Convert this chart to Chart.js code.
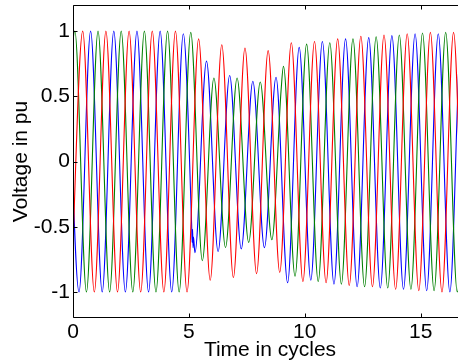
<!doctype html>
<html>
<head>
	<meta charset="utf-8">
	<title>Voltage in pu</title>
	<style>
		html, body { margin: 0; padding: 0; overflow: hidden; background: #fff; }
		#canvas-holder { width: 480px; height: 361px; }
	</style>
</head>
<body>
	<div id="canvas-holder">
		<canvas id="chart-area"></canvas>
	</div>
	<script src="https://cdn.jsdelivr.net/npm/chart.js@4.4.1/dist/chart.umd.min.js"></script>
	<script>
	// peaks / troughs of each phase, one value per cycle
	// red: peaks at n+0.42, troughs at n-0.08
	var redPeakStart = 0.42, redTroughStart = -0.08;
	var redPeaks   = [1, 1, 1, 1, 1, 0.94, 0.895, 0.87, 0.85, 0.91, 0.92, 0.94, 0.96, 0.97, 0.98, 0.99, 0.99, 1];
	var redTroughs = [-1, -1, -1, -1, -1, -1, -0.91, -0.89, -0.86, -0.85, -0.92, -0.93, -0.95, -0.96, -0.98, -0.99, -1, -1];
	// green: peaks at n+0.08, troughs at n-0.42
	var greenPeakStart = 0.08, greenTroughStart = -0.42;
	var greenPeaks   = [1, 1, 1, 1, 1, 0.99, 0.64, 0.64, 0.61, 0.73, 0.9, 0.91, 0.94, 0.957, 0.97, 0.985, 0.99, 1];
	var greenTroughs = [-1, -1, -1, -1, -1, -1, -0.76, -0.66, -0.62, -0.6, -0.88, -0.92, -0.94, -0.96, -0.97, -0.98, -0.99, -1];
	var greenExtra = [[8.98, 0.55]];
	// blue: peaks at n-0.24, troughs at n+0.26
	var bluePeakStart = -0.24, blueTroughStart = 0.26;
	var bluePeaks   = [1, 1, 1, 1, 1, 0.98, 0.77, 0.66, 0.615, 0.646, 0.875, 0.92, 0.94, 0.95, 0.965, 0.98, 0.98, 0.99];
	var blueTroughs = [-1, -1, -1, -1, -1, -0.7, -0.69, -0.67, -0.66, -0.93, -0.91, -0.94, -0.96, -0.97, -0.98, -0.99, -1, -1];
	var blueExtra = [[5.12, -0.49], [5.14, -0.62], [5.16, -0.52], [5.18, -0.66], [5.2, -0.58]];

	var xTicks = [0, 5, 10, 15];
	var yTicks = [-1, -0.5, 0, 0.5, 1];

	function buildPoints(peakStart, peaks, troughStart, troughs, extra) {
		var pts = [];
		peaks.forEach(function(v, n) { pts.push({x: peakStart + n, y: v}); });
		troughs.forEach(function(v, n) { pts.push({x: troughStart + n, y: v}); });
		(extra || []).forEach(function(p) { pts.push({x: p[0], y: p[1]}); });
		pts.sort(function(a, b) { return a.x - b.x; });
		return pts;
	}

	var boxPlugin = {
		id: 'box',
		afterDraw: function(chart) {
			var ctx = chart.ctx, a = chart.chartArea;
			var x = chart.scales.x, y = chart.scales.y;
			var L = Math.round(a.left) + 0.5, R = Math.round(a.right) - 0.5;
			var T = Math.round(a.top) + 0.5, B = Math.round(a.bottom) - 0.5;
			ctx.save();
			ctx.strokeStyle = '#000';
			ctx.lineWidth = 1;
			ctx.beginPath();
			ctx.moveTo(L, T); ctx.lineTo(R, T); ctx.lineTo(R, B); ctx.lineTo(L, B); ctx.closePath();
			xTicks.forEach(function(v) {
				var px = Math.round(x.getPixelForValue(v)) + 0.5;
				ctx.moveTo(px, B); ctx.lineTo(px, B - 4);
				ctx.moveTo(px, T); ctx.lineTo(px, T + 4);
			});
			yTicks.forEach(function(v) {
				var py = Math.round(y.getPixelForValue(v)) + 0.5;
				ctx.moveTo(L, py); ctx.lineTo(L + 4, py);
				ctx.moveTo(R, py); ctx.lineTo(R - 4, py);
			});
			ctx.stroke();
			ctx.restore();
		}
	};

	var font = 'Liberation Sans, Arial, Helvetica, sans-serif';
	var config = {
		type: 'line',
		data: {
			datasets: [{
				label: 'Phase a',
				data: buildPoints(redPeakStart, redPeaks, redTroughStart, redTroughs),
				borderColor: 'rgb(255, 0, 0)'
			}, {
				label: 'Phase b',
				data: buildPoints(greenPeakStart, greenPeaks, greenTroughStart, greenTroughs, greenExtra),
				borderColor: 'rgb(0, 128, 0)'
			}, {
				label: 'Phase c',
				data: buildPoints(bluePeakStart, bluePeaks, blueTroughStart, blueTroughs, blueExtra),
				borderColor: 'rgb(0, 0, 255)'
			}]
		},
		options: {
			responsive: true,
			maintainAspectRatio: false,
			animation: false,
			devicePixelRatio: 1,
			layout: { padding: { top: 5, right: 13, left: 0, bottom: 0 } },
			elements: {
				point: { radius: 0 },
				line: { borderWidth: 1.1, fill: false, cubicInterpolationMode: 'monotone' }
			},
			plugins: { legend: { display: false }, tooltip: { enabled: false } },
			scales: {
				x: {
					type: 'linear', min: 0, max: 17,
					afterFit: function(s) { s.height = 43; s.paddingLeft = 0; s.paddingRight = 0; },
					afterBuildTicks: function(s) { s.ticks = xTicks.map(function(v) { return {value: v}; }); },
					grid: { display: false, drawTicks: false },
					border: { display: false },
					ticks: { color: '#000', padding: 4, font: { family: font, size: 21, lineHeight: 1 } },
					title: { display: true, text: 'Time in cycles', color: '#000', padding: { top: 0, bottom: 0 }, font: { family: font, size: 21, lineHeight: 1 } }
				},
				y: {
					min: -1.2, max: 1.2,
					afterFit: function(s) { s.width = 73; s.paddingTop = 0; s.paddingBottom = 0; },
					afterBuildTicks: function(s) { s.ticks = yTicks.map(function(v) { return {value: v}; }); },
					grid: { display: false, drawTicks: false },
					border: { display: false },
					ticks: {
						color: '#000', padding: 3, font: { family: font, size: 21 },
						callback: function(v) { return String(v); }
					},
					title: { display: true, text: 'Voltage in pu', color: '#000', padding: { top: 11, bottom: 0 }, font: { family: font, size: 21, lineHeight: 1 } }
				}
			}
		},
		plugins: [boxPlugin]
	};

	window.onload = function() {
		var ctx = document.getElementById('chart-area').getContext('2d');
		window.myLine = new Chart(ctx, config);
	};
	</script>
</body>
</html>
